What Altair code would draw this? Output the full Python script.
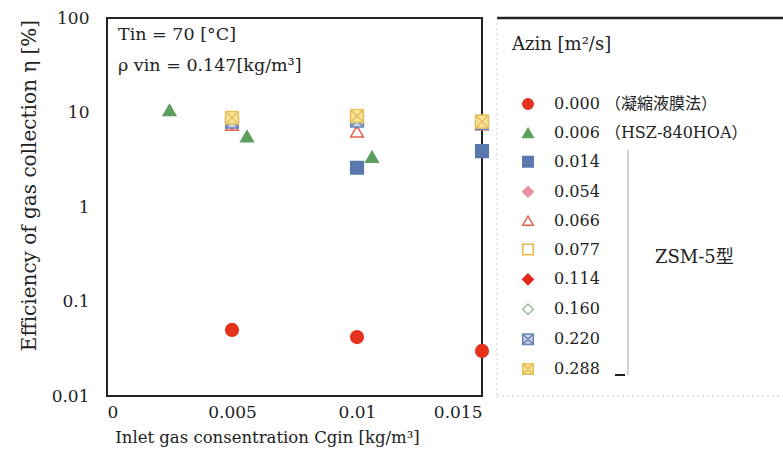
import altair as alt
import pandas as pd

# ---- data ----
series = ["0.000", "0.006", "0.014", "0.054", "0.066", "0.077", "0.114", "0.160", "0.220", "0.288"]
stroke_colors = ["#e4321c", "#5c9e5e", "#5a78ad", "#e98ea2", "#e2634f", "#efb24a", "#e0291a", "#9cc09c", "#6a86b6", "#e7c05c"]
fill_colors = ["#e4321c", "#5c9e5e", "#5a78ad", "#e98ea2", "white", "white", "#e0291a", "white", "#c8d4ea", "#f6e49a"]
xpath = "M-1,-1H1V1H-1Z M-1,-1L1,1 M1,-1L-1,1"
shapes = ["circle", "triangle-up", "square", "diamond", "triangle-up", "square", "diamond", "diamond", xpath, xpath]

x_000 = [0.005, 0.010, 0.015]
y_000 = [0.050, 0.042, 0.030]
x_006 = [0.0025, 0.0056, 0.0106]
y_006 = [10.6, 5.6, 3.4]
x_014 = [0.010, 0.015]
y_014 = [2.6, 3.9]
x_zsm = [0.005, 0.010, 0.015]
y_054 = [8.0, 8.5, 7.8]
y_066 = [7.4, 6.3, 7.5]
y_077 = [8.6, 9.0, 8.0]
y_114 = [7.8, 8.0, 7.6]
y_160 = [8.2, 8.3, 7.9]
y_220 = [8.0, 8.2, 7.7]
y_288 = [8.8, 9.2, 8.0]

legend_notes = {"0.000": "0.000 （凝縮液膜法）", "0.006": "0.006 （HSZ-840HOA）"}

rows = []
def add(name, xs, ys):
    for xv, yv in zip(xs, ys):
        rows.append({"A": name, "C": xv, "eta": yv})

add("0.000", x_000, y_000)
add("0.006", x_006, y_006)
add("0.014", x_014, y_014)
for name, ys in zip(series[3:], [y_054, y_066, y_077, y_114, y_160, y_220, y_288]):
    add(name, x_zsm, ys)
df = pd.DataFrame(rows)

FONT = "'DejaVu Serif', 'Noto Sans CJK JP', serif"

label_expr = " : ".join([f"datum.label == '{k}' ? '{v}'" for k, v in legend_notes.items()]) + " : datum.label"

leg = alt.Legend(
    title="Azin [m²/s]", orient="none", legendX=405, legendY=18,
    titleFont=FONT, titleFontSize=18, titleFontWeight="normal", titleColor="#222",
    labelFont=FONT, labelFontSize=16, labelColor="#222", labelExpr=label_expr,
    symbolSize=110, symbolStrokeWidth=1.5, symbolOffset=8, rowPadding=11.9, titlePadding=42,
    padding=0, labelLimit=400, labelOffset=18,
)

points = alt.Chart(df).mark_point(size=160, strokeWidth=1.5, opacity=1, filled=False).encode(
    x=alt.X("C:Q", scale=alt.Scale(domain=[0, 0.015], nice=False),
            axis=alt.Axis(title="Inlet gas consentration Cgin [kg/m³]", values=[0, 0.005, 0.01, 0.015],
                          labelExpr="datum.value == 0 ? '0' : format(datum.value, '')")),
    y=alt.Y("eta:Q", scale=alt.Scale(type="log", domain=[0.01, 100], nice=False),
            axis=alt.Axis(title="Efficiency of gas collection η  [%]", values=[0.01, 0.1, 1, 10, 100],
                          labelExpr="format(datum.value, '')")),
    color=alt.Color("A:N", scale=alt.Scale(domain=series, range=stroke_colors), legend=leg),
    fill=alt.Fill("A:N", scale=alt.Scale(domain=series, range=fill_colors), legend=leg),
    shape=alt.Shape("A:N", scale=alt.Scale(domain=series, range=shapes), legend=leg),
)

ann = pd.DataFrame({"t": ["Tin = 70 [°C]", "ρ vin = 0.147[kg/m³]"], "py": [17, 48]})
ann_text = alt.Chart(ann).mark_text(align="left", baseline="middle", font=FONT, fontSize=17.5, color="#222").encode(
    x=alt.value(11), y=alt.Y("py:Q", scale=None), text="t:N"
)

zsm = alt.Chart(pd.DataFrame({"t": ["ZSM-5型"]})).mark_text(
    align="left", baseline="middle", font=FONT, fontSize=18, color="#222"
).encode(x=alt.value(548), y=alt.value(240), text="t:N")

bracket = alt.Chart(pd.DataFrame({"a": [0]})).mark_rule(color="#aaaaaa", strokeWidth=1).encode(
    x=alt.value(521), y=alt.value(132), y2=alt.value(357)
)
bracket_tick = alt.Chart(pd.DataFrame({"a": [0]})).mark_rule(color="#222", strokeWidth=2).encode(
    x=alt.value(508), x2=alt.value(518), y=alt.value(357)
)
top_line = alt.Chart(pd.DataFrame({"a": [0]})).mark_rule(color="#222", strokeWidth=2.5).encode(
    x=alt.value(390), x2=alt.value(676), y=alt.value(0)
)
left_line = alt.Chart(pd.DataFrame({"a": [0]})).mark_rule(color="#cccccc", strokeWidth=1, strokeDash=[2, 3]).encode(
    x=alt.value(390), y=alt.value(0), y2=alt.value(378)
)
bottom_line = alt.Chart(pd.DataFrame({"a": [0]})).mark_rule(color="#cccccc", strokeWidth=1, strokeDash=[2, 3]).encode(
    x=alt.value(390), x2=alt.value(676), y=alt.value(378)
)

chart = alt.layer(points, ann_text, zsm, bracket, bracket_tick, top_line, left_line, bottom_line).properties(
    width=375, height=378,
    autosize=alt.AutoSizeParams(type="none"),
    padding={"left": 107, "top": 18, "right": 301, "bottom": 66},
).configure_view(stroke="#222", strokeWidth=2).configure_axis(
    labelFont=FONT, titleFont=FONT, labelFontSize=17, titleFontWeight="normal",
    labelColor="#222", titleColor="#222", grid=False, domain=False, ticks=False,
).configure_axisY(titlePadding=12, titleFontSize=20, labelPadding=18, titleY=167, titleAlign="center",
                  titleAnchor="start").configure_axisX(
    titlePadding=9, titleFontSize=16.5, labelPadding=8, titleX=160, titleAlign="center", titleAnchor="start")

chart.save("out.html", embed_options={"renderer": "svg", "actions": False})
